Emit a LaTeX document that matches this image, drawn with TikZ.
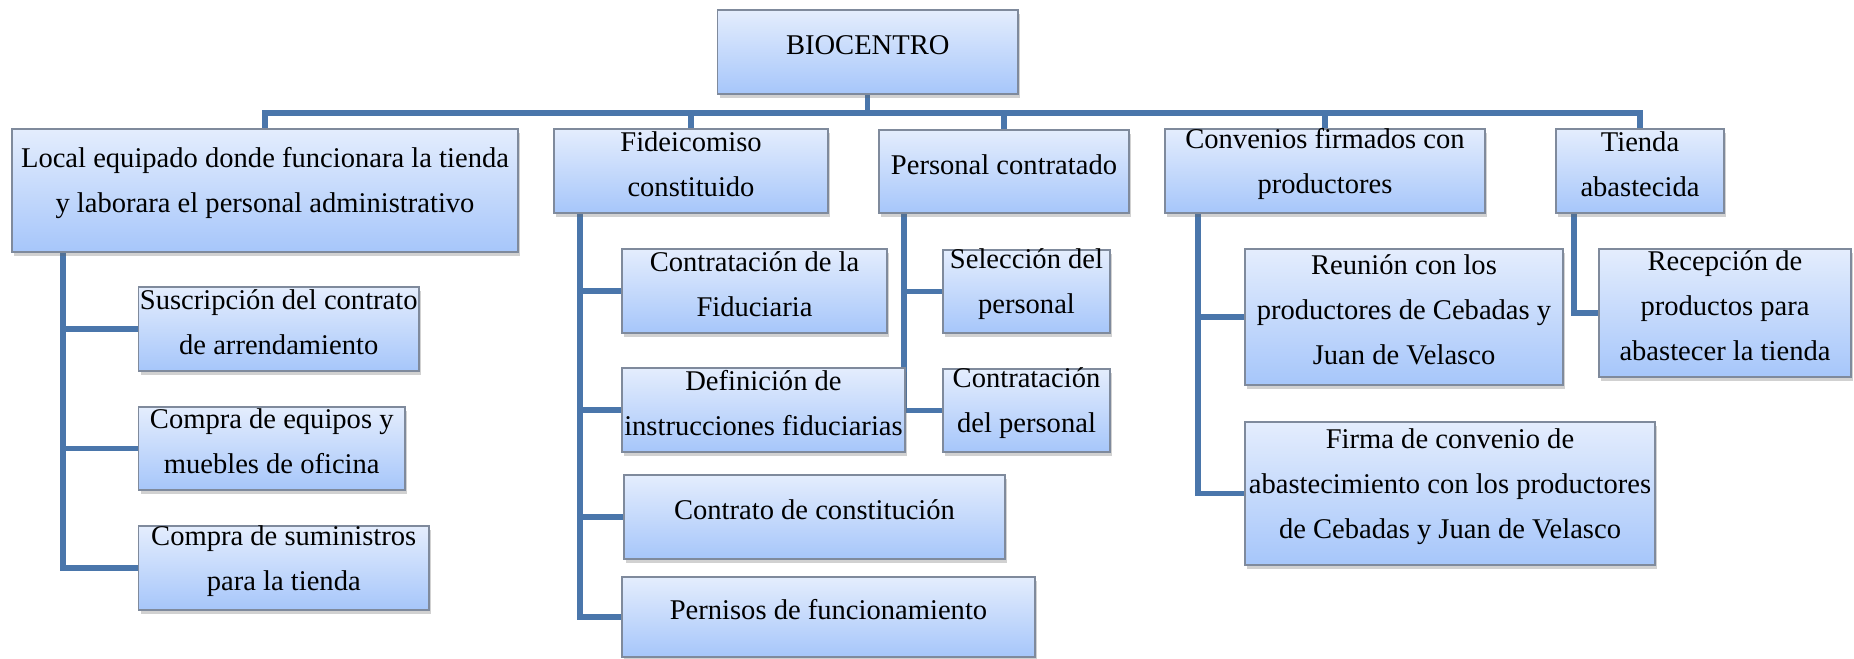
\documentclass[tikz,border=0pt]{standalone}
\usepackage{fontspec}
\setmainfont{Liberation Serif}
\usetikzlibrary{fit,shadows,backgrounds}
\definecolor{linec}{HTML}{4A76AB}
\definecolor{boxtop}{HTML}{E4EDFD}
\definecolor{boxbot}{HTML}{A6C6FA}
\definecolor{boxedge}{HTML}{7F8A9C}
\tikzset{
  box/.style={rectangle, inner sep=0pt, draw=boxedge, line width=0.6pt,
    top color=boxtop, bottom color=boxbot,
    drop shadow={opacity=0.3, shadow xshift=1pt, shadow yshift=-1.6pt, fill=black!60}},
  txt/.style={align=center, inner sep=0pt, font=\fontsize{12}{18.9}\selectfont},
  conn/.style={draw=linec, line width=2.2pt, line cap=rect}
}
\newcommand{\orgbox}[6]{%
  \node[box, fit={(#2,#3)(#4,#5)}] (#1) {};
  \node[txt] (#1t) at ([yshift=3pt]#1.center) {#6};}
\begin{document}
\begin{tikzpicture}[x=0.42pt,y=-0.42pt]
\useasboundingbox (0,0) rectangle (1854,659);
\orgbox{bio}{717.5}{10}{1018}{94}{BIOCENTRO}
\orgbox{loc}{12}{129}{518}{252}{Local equipado donde funcionara la tienda\\y laborara el personal administrativo}
\orgbox{fid}{554}{129}{828}{213}{Fideicomiso\\constituido}
\orgbox{per}{879}{130}{1129}{213}{Personal contratado}
\orgbox{con}{1165}{129}{1485}{213}{Convenios firmados con\\productores}
\orgbox{tie}{1556}{129}{1724}{213}{Tienda\\abastecida}
\orgbox{sus}{138.5}{287}{419}{371}{Suscripción del contrato\\de arrendamiento}
\orgbox{ceq}{138.5}{407}{405}{490}{Compra de equipos y\\muebles de oficina}
\orgbox{csu}{138.5}{526}{429}{610}{Compra de suministros\\para la tienda}
\orgbox{cfi}{622}{249}{887}{333}{Contratación de la\\Fiduciaria}
\orgbox{def}{622}{368}{905}{452}{Definición de\\instrucciones fiduciarias}
\orgbox{cco}{624}{475}{1005}{559}{Contrato de constitución}
\orgbox{pfu}{622}{577}{1035}{657}{Pernisos de funcionamiento}
\orgbox{sel}{943}{250}{1110}{333}{Selección del\\personal}
\orgbox{cpe}{943}{369}{1110}{452}{Contratación\\del personal}
\orgbox{reu}{1245}{249}{1563}{385}{Reunión con los\\productores de Cebadas y\\Juan de Velasco}
\orgbox{fir}{1245}{422}{1655}{565}{Firma de convenio de\\abastecimiento con los productores\\de Cebadas y Juan de Velasco}
\orgbox{rec}{1599}{249}{1851}{377}{Recepción de\\productos para\\abastecer la tienda}
\coordinate (busy) at (0,113);
\coordinate (lt) at (63,252);
\coordinate (ft) at (580,213);
\coordinate (pt) at (904,213);
\coordinate (ct) at (1198,213);
\coordinate (tt) at (1574,213);
\begin{pgfonlayer}{background}
\draw[conn] (bio.south) -- (bio.south |- busy);
\draw[conn] (loc.north) -- (loc.north |- busy) -- (tie.north |- busy) -- (tie.north);
\draw[conn] (fid.north) -- (fid.north |- busy);
\draw[conn] (per.north) -- (per.north |- busy);
\draw[conn] (con.north) -- (con.north |- busy);
% Local
\draw[conn] (lt) |- (csu.west);
\draw[conn] (lt |- sus.west) -- (sus.west);
\draw[conn] (lt |- ceq.west) -- (ceq.west);
% Fideicomiso
\draw[conn] (ft) |- (pfu.west);
\draw[conn] (ft |- cfi.west) -- (cfi.west);
\draw[conn] (ft |- def.west) -- (def.west);
\draw[conn] (ft |- cco.west) -- (cco.west);
% Personal
\draw[conn] (pt) |- (cpe.west);
\draw[conn] (pt |- sel.west) -- (sel.west);
% Convenios
\draw[conn] (ct) |- (fir.west);
\draw[conn] (ct |- reu.west) -- (reu.west);
% Tienda
\draw[conn] (tt) |- (rec.west);
\end{pgfonlayer}
\end{tikzpicture}
\end{document}
